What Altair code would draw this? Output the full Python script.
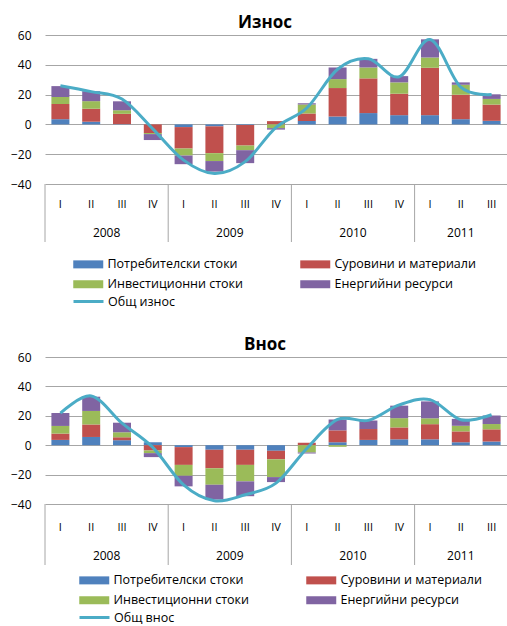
import altair as alt
import pandas as pd

# Category axis: quarters grouped by year
quarters = ["I", "II", "III", "IV", "I", "II", "III", "IV", "I", "II", "III", "IV", "I", "II", "III"]
years = ["2008"] * 4 + ["2009"] * 4 + ["2010"] * 4 + ["2011"] * 3

groups = ["Потребителски стоки", "Суровини и материали", "Инвестиционни стоки", "Енергийни ресурси"]
group_colors = ["#4F81BD", "#C0504D", "#9BBB59", "#8064A2"]
total_color = "#4BACC6"

# Export: contributions by commodity group (percentage points) and total growth (%)
export_consumer = [3.5, 1.8, 0.2, 0.0, -1.8, -1.3, -0.4, 0.0, 2.2, 5.3, 7.6, 6.2, 6.2, 3.5, 2.4]
export_raw = [10.2, 8.7, 6.9, -5.8, -14.4, -18.0, -13.8, 2.2, 5.1, 19.1, 23.3, 14.4, 31.8, 16.4, 10.9]
export_invest = [4.7, 5.1, 2.4, -0.7, -4.7, -5.3, -3.1, -2.5, 6.0, 6.0, 7.3, 7.6, 6.9, 6.7, 3.8]
export_energy = [7.3, 6.7, 6.0, -4.0, -5.8, -7.1, -8.7, -1.0, 0.9, 7.8, 5.8, 4.2, 12.2, 1.6, 3.1]
export_total = [26.0, 22.0, 17.0, -3.0, -24.0, -33.0, -25.0, -2.0, 11.0, 37.0, 44.0, 32.0, 57.0, 25.0, 20.0]

# Import: contributions by commodity group (percentage points) and total growth (%)
import_consumer = [3.6, 5.6, 3.4, 2.0, -1.3, -3.1, -3.1, -3.8, 0.0, 2.0, 3.6, 4.0, 4.0, 2.0, 2.5]
import_raw = [4.3, 8.5, 2.0, -3.6, -12.1, -12.6, -10.3, -5.8, 1.6, 8.1, 7.4, 8.1, 10.3, 7.4, 8.3]
import_invest = [5.2, 9.2, 3.4, -1.8, -7.4, -11.2, -11.2, -12.1, -5.0, -1.1, 0.0, 6.3, 4.0, 3.8, 3.6]
import_energy = [8.8, 9.7, 6.5, -2.7, -7.2, -10.1, -10.1, -3.4, -0.6, 7.4, 5.8, 8.5, 11.5, 4.7, 5.8]
import_total = [21.8, 33.5, 15.0, -1.5, -27.0, -37.8, -33.7, -25.8, -2.2, 17.5, 16.9, 27.4, 31.0, 17.3, 20.7]

y_ticks = [-40, -20, 0, 20, 40, 60]

FONT = "Open Sans"
PLOT_W = 462


def build_panel(title, parts, totals, total_name, legend_x, plot_h, gap, legend_dy):
    """One panel: stacked contributions, smoothed total, two-level quarter/year axis."""
    n = len(quarters)
    bars = pd.DataFrame(
        [
            {"i": i, "group": g, "rank": k, "value": parts[k][i]}
            for k, g in enumerate(groups)
            for i in range(n)
        ]
    )
    cats = pd.DataFrame(
        {"i": list(range(n)), "quarter": quarters, "year": years,
         "total": totals, "name": total_name}
    )

    xs = alt.Scale(domain=[-0.5, n - 0.5], nice=False, zero=False, padding=0)
    ys = alt.Scale(domain=[y_ticks[0], y_ticks[-1]], nice=False)
    y_axis = alt.Axis(
        values=y_ticks,
        title=None,
        domain=False,
        ticks=False,
        labelOverlap=False,
        labelPadding=14,
        labelFontSize=12,
        labelColor="#000000",
        gridColor="#A6A6A6",
        gridWidth=1,
    )

    bar_layer = alt.Chart(bars).mark_bar(size=18).encode(
        x=alt.X("i:Q", scale=xs, axis=None),
        y=alt.Y("value:Q", stack="zero", scale=ys, axis=y_axis),
        color=alt.Color(
            "group:N",
            scale=alt.Scale(domain=groups, range=group_colors),
            legend=alt.Legend(
                title=None,
                orient="none",
                direction="horizontal",
                legendX=legend_x,
                legendY=plot_h + legend_dy + 70,
                columns=2,
                columnPadding=56,
                rowPadding=7,
                symbolType="M-3,-0.8H3V0.8H-3Z",
                symbolSize=100,
                symbolStrokeWidth=0,
                symbolOpacity=1,
                labelOffset=13,
                labelFontSize=12.5,
                labelFont=FONT,
                labelColor="#000000",
            ),
        ),
        order=alt.Order("rank:Q"),
    )

    line_layer = alt.Chart(cats).mark_line(interpolate="cardinal", strokeWidth=3).encode(
        x=alt.X("i:Q", scale=xs, axis=None),
        y=alt.Y("total:Q", scale=ys, axis=y_axis),
        stroke=alt.Stroke(
            "name:N",
            scale=alt.Scale(range=[total_color]),
            legend=alt.Legend(
                title=None,
                orient="none",
                legendX=legend_x,
                legendY=plot_h + legend_dy + 107,
                symbolType="M-3,0H3",
                symbolSize=100,
                symbolStrokeWidth=3,
                labelOffset=13,
                labelFontSize=12.5,
                labelFont=FONT,
                labelColor="#000000",
            ),
        ),
    )

    quarter_text = alt.Chart(cats).mark_text(fontSize=11, font=FONT, baseline="middle").encode(
        x=alt.X("i:Q", scale=xs, axis=None),
        y=alt.value(plot_h + gap + 19),
        text="quarter:N",
    )

    year_text = (
        alt.Chart(cats)
        .transform_aggregate(mid="mean(i)", groupby=["year"])
        .mark_text(fontSize=12, font=FONT, baseline="middle")
        .encode(x=alt.X("mid:Q", scale=xs, axis=None), y=alt.value(plot_h + gap + 47), text="year:N")
    )

    separators = (
        alt.Chart(cats)
        .transform_aggregate(start="min(i)", groupby=["year"])
        .transform_calculate(edge="datum.start - 0.5")
        .mark_rule(color="#A6A6A6", strokeWidth=1)
        .encode(
            x=alt.X("edge:Q", scale=xs, axis=None),
            y=alt.value(plot_h),
            y2=alt.value(plot_h + gap + 56),
        )
    )

    return (
        alt.layer(bar_layer, line_layer, separators, quarter_text, year_text)
        .resolve_scale(color="independent", stroke="independent")
        .properties(
            width=PLOT_W,
            height=plot_h,
            title=alt.TitleParams(
                title, fontSize=17, fontWeight="bold", font=FONT,
                anchor="middle", dx=-11, offset=-3, color="#000000",
            ),
        )
    )


export_panel = build_panel(
    "Износ",
    [export_consumer, export_raw, export_invest, export_energy],
    export_total, "Общ износ", 37, 149, 2, 4,
)
import_panel = build_panel(
    "Внос",
    [import_consumer, import_raw, import_invest, import_energy],
    import_total, "Общ внос", 43, 147, 5, 0,
)

chart = (
    alt.vconcat(export_panel, import_panel, spacing=28)
    .resolve_scale(color="independent", stroke="independent")
    .resolve_legend(color="independent", stroke="independent")
    .properties(padding={"left": 10, "top": 14, "right": 0, "bottom": 0}, background="#FFFFFF")
    .configure_view(stroke=None)
    .configure_axis(labelFont=FONT)
)

chart.save("out.html", embed_options={"renderer": "svg", "actions": False})
